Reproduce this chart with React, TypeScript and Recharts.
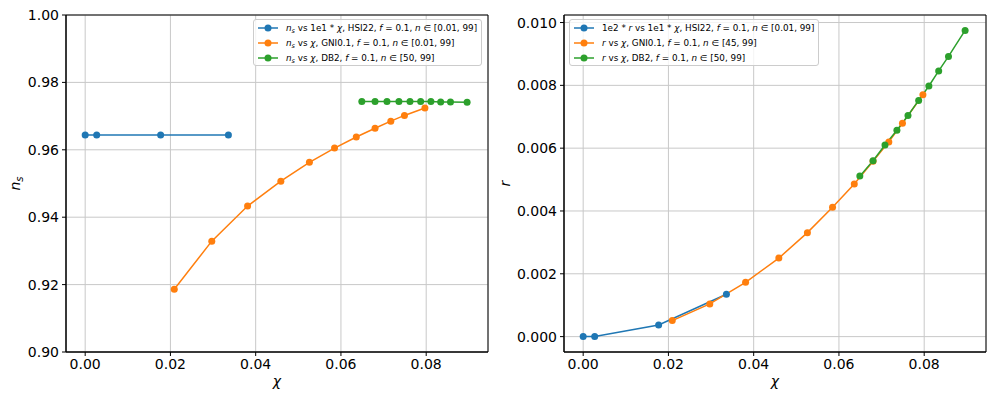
import React from "react";
import { CartesianGrid, Legend, Line, LineChart, ReferenceArea, XAxis, YAxis } from "recharts";

// tick values
const chiTicks = [0, 0.02, 0.04, 0.06, 0.08];
const nsTicks = [0.9, 0.92, 0.94, 0.96, 0.98, 1.0];
const rTicks = [0, 0.002, 0.004, 0.006, 0.008, 0.01];

// HSI22 (plotted as 1e1*chi, and 1e2*r on the right)
const hsiChi = [0, 0.0027, 0.0177, 0.0336];
const hsiNs = [0.9644, 0.9644, 0.9644, 0.9644];
const hsiR = [0, 0, 0.00037, 0.00135];

// GNI0.1
const gniChi = [0.0209, 0.0297, 0.0381, 0.0459, 0.0526, 0.0585, 0.0636, 0.068, 0.0717, 0.0749, 0.0797];
const gniNs = [0.9186, 0.9329, 0.9433, 0.9507, 0.9563, 0.9605, 0.9638, 0.9664, 0.9685, 0.9702, 0.9724];
const gniR = [0.00051, 0.00104, 0.00173, 0.0025, 0.00331, 0.00412, 0.00486, 0.00558, 0.0062, 0.00679, 0.0077];

// DB2
const db2Chi = [0.0649, 0.068, 0.0708, 0.0736, 0.0762, 0.0787, 0.0811, 0.0834, 0.0857, 0.0896];
const db2Ns = [0.9743, 0.9743, 0.9743, 0.9743, 0.9743, 0.9743, 0.9743, 0.9742, 0.9742, 0.9741];
const db2R = [0.00511, 0.0056, 0.0061, 0.00657, 0.00704, 0.00752, 0.00798, 0.00846, 0.00892, 0.00975];

const BLUE = "#1f77b4";
const ORANGE = "#ff7f0e";
const GREEN = "#2ca02c";
const FONT = "'DejaVu Sans', sans-serif";

const zip = (xs: number[], ys: number[]) => xs.map((x, i) => ({ x, y: ys[i] }));

const I = ({ children }: { children: React.ReactNode }) => <i>{children}</i>;
const Sub = ({ children }: { children: React.ReactNode }) => (
  <sub style={{ fontSize: 6.5, verticalAlign: -2, lineHeight: 0, fontStyle: "italic" }}>{children}</sub>
);

const leftLabels = [
  <>
    <I>n</I><Sub>s</Sub> vs 1e1 * <I>χ</I>, HSI22, <I>f</I> = 0.1, <I>n</I> ∈ [0.01, 99]
  </>,
  <>
    <I>n</I><Sub>s</Sub> vs <I>χ</I>, GNI0.1, <I>f</I> = 0.1, <I>n</I> ∈ [0.01, 99]
  </>,
  <>
    <I>n</I><Sub>s</Sub> vs <I>χ</I>, DB2, <I>f</I> = 0.1, <I>n</I> ∈ [50, 99]
  </>,
];

const rightLabels = [
  <>
    1e2 * <I>r</I> vs 1e1 * <I>χ</I>, HSI22, <I>f</I> = 0.1, <I>n</I> ∈ [0.01, 99]
  </>,
  <>
    <I>r</I> vs <I>χ</I>, GNI0.1, <I>f</I> = 0.1, <I>n</I> ∈ [45, 99]
  </>,
  <>
    <I>r</I> vs <I>χ</I>, DB2, <I>f</I> = 0.1, <I>n</I> ∈ [50, 99]
  </>,
];

const colors = [BLUE, ORANGE, GREEN];

function LegendBox({ labels }: { labels: React.ReactNode[] }) {
  return (
    <div
      style={{
        display: "inline-block",
        background: "rgba(255,255,255,0.8)",
        border: "1px solid #cccccc",
        borderRadius: 3,
        padding: "0 4px 0 4px",
        fontFamily: FONT,
        fontSize: 8.8,
        color: "#000",
      }}
    >
      {labels.map((label, i) => (
        <div key={i} style={{ display: "flex", alignItems: "center", height: 15, whiteSpace: "nowrap" }}>
          <svg width={20} height={10} style={{ marginRight: 8, flex: "none" }}>
            <line x1={0} x2={20} y1={5} y2={5} stroke={colors[i]} strokeWidth={1.5} />
            <circle cx={10} cy={5} r={3.5} fill={colors[i]} />
          </svg>
          <span>{label}</span>
        </div>
      ))}
    </div>
  );
}

type Series = { data: { x: number; y: number }[]; color: string };

type PanelProps = {
  series: Series[];
  yTicks: number[];
  yDomain: [number, number];
  yDigits: number;
  yLabel: "ns" | "r";
  labelX: number;
  legendStyle: React.CSSProperties;
  labels: React.ReactNode[];
};

const tickStyle = { fill: "#000", fontSize: 14, fontFamily: FONT };

function Panel({ series, yTicks, yDomain, yDigits, yLabel, labelX, legendStyle, labels }: PanelProps) {
  const xDomain: [number, number] = [-0.0045, 0.0945];
  return (
    <LineChart width={498} height={399} margin={{ top: 15, right: 10, bottom: 17, left: 10 }}>
      <CartesianGrid stroke="#c8c8c8" strokeWidth={1} />
      <XAxis
        dataKey="x"
        type="number"
        domain={xDomain}
        allowDataOverflow
        ticks={chiTicks}
        interval={0}
        tickFormatter={(v: number) => v.toFixed(2)}
        tick={tickStyle}
        tickSize={4}
        tickMargin={3}
        height={30}
        stroke="#000"
        tickLine={{ stroke: "#000" }}
        axisLine={{ stroke: "#000" }}
        label={(p: any) => {
          const vb = p.viewBox;
          return (
            <text x={vb.x + vb.width / 2} y={386} textAnchor="middle" fontSize={14} fontFamily={FONT} fontStyle="italic" fill="#000">
              χ
            </text>
          );
        }}
      />
      <YAxis
        type="number"
        domain={yDomain}
        allowDataOverflow
        ticks={yTicks}
        interval={0}
        tickFormatter={(v: number) => v.toFixed(yDigits)}
        tick={tickStyle}
        tickSize={4}
        tickMargin={3}
        width={56}
        tickLine={{ stroke: "#000" }}
        axisLine={{ stroke: "#000" }}
        label={(p: any) => {
          const vb = p.viewBox;
          const cy = vb.y + vb.height / 2;
          return (
            <text x={labelX} y={cy} transform={`rotate(-90 ${labelX} ${cy})`} textAnchor="middle" fontSize={14} fontFamily={FONT} fontStyle="italic" fill="#000">
              {yLabel === "ns" ? (
                <>
                  <tspan>n</tspan>
                  <tspan fontSize={10} dy={3}>s</tspan>
                </>
              ) : (
                <tspan>r</tspan>
              )}
            </text>
          );
        }}
      />
      <Legend
        layout="vertical"
        verticalAlign="middle"
        align="center"
        wrapperStyle={{ ...legendStyle, width: "auto", height: "auto" }}
        content={() => <LegendBox labels={labels} />}
      />
      {series.map((s, i) => (
        <Line
          key={i}
          data={s.data}
          dataKey="y"
          stroke={s.color}
          strokeWidth={1.5}
          dot={{ r: 3.5, fill: s.color, stroke: s.color, strokeWidth: 0 }}
          activeDot={false}
          isAnimationActive={false}
        />
      ))}
      {/* axes frame (top and right spines) */}
      <ReferenceArea
        x1={xDomain[0]}
        x2={xDomain[1]}
        y1={yDomain[0]}
        y2={yDomain[1]}
        fill="none"
        fillOpacity={0}
        stroke="#000"
        strokeWidth={1}
        ifOverflow="visible"
      />
    </LineChart>
  );
}

export default function App() {
  return (
    <div style={{ position: "absolute", left: 0, top: 0, width: 996, height: 399, display: "flex", background: "#fff" }}>
      <Panel
        series={[
          { data: zip(hsiChi, hsiNs), color: BLUE },
          { data: zip(gniChi, gniNs), color: ORANGE },
          { data: zip(db2Chi, db2Ns), color: GREEN },
        ]}
        yTicks={nsTicks}
        yDomain={[0.9, 1.0]}
        yDigits={2}
        yLabel="ns"
        labelX={20}
        legendStyle={{ top: 19, left: 253 }}
        labels={leftLabels}
      />
      <Panel
        series={[
          { data: zip(hsiChi, hsiR), color: BLUE },
          { data: zip(gniChi, gniR), color: ORANGE },
          { data: zip(db2Chi, db2R), color: GREEN },
        ]}
        yTicks={rTicks}
        yDomain={[-0.00049, 0.01024]}
        yDigits={3}
        yLabel="r"
        labelX={12}
        legendStyle={{ top: 19, left: 71 }}
        labels={rightLabels}
      />
    </div>
  );
}
